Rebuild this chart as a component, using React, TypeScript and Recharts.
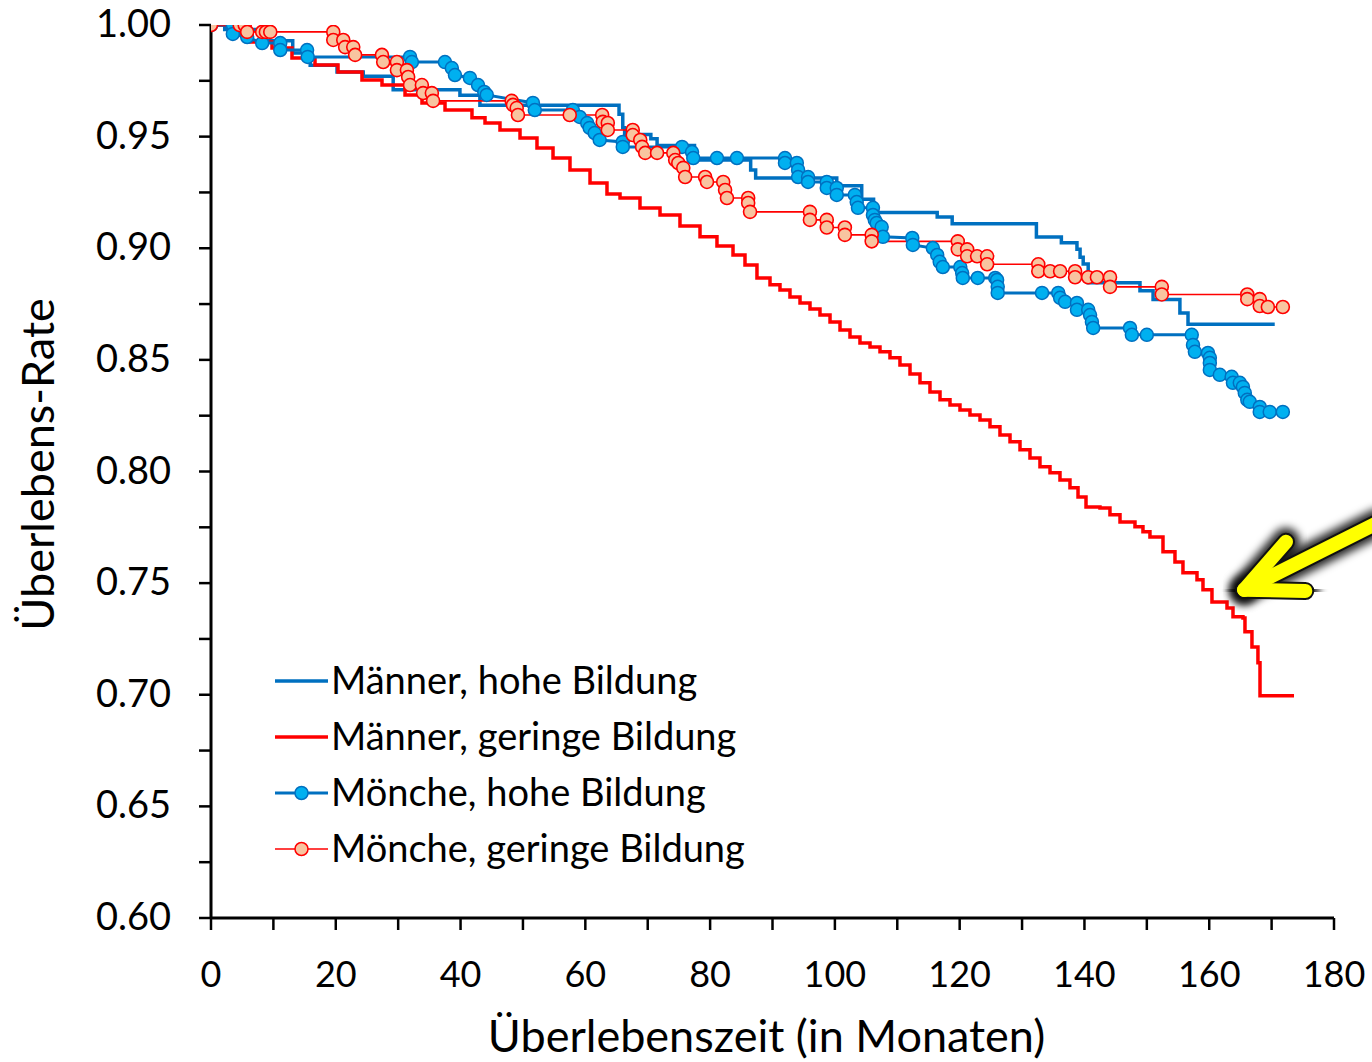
import React from 'react';
import { LineChart, Line, XAxis, YAxis, Legend, ReferenceLine, Label } from 'recharts';

const X_TICKS = [0, 10, 20, 30, 40, 50, 60, 70, 80, 90, 100, 110, 120, 130, 140, 150, 160, 170, 180];
const Y_TICKS = [0.6, 0.625, 0.65, 0.675, 0.7, 0.725, 0.75, 0.775, 0.8, 0.825, 0.85, 0.875, 0.9, 0.925, 0.95, 0.975, 1.0];

const SERIES_NAMES = [
  'Männer, hohe Bildung',
  'Männer, geringe Bildung',
  'Mönche, hohe Bildung',
  'Mönche, geringe Bildung',
];

const X_TITLE = 'Überlebenszeit (in Monaten)';
const Y_TITLE = 'Überlebens-Rate';

// [Monate, Überlebensrate]
const maennerHoch: [number, number][] = [
  [0, 1.0], [2.2, 0.998], [7.9, 0.993], [13.1, 0.9875], [15.9, 0.982], [20.2, 0.979], [24.4, 0.977],
  [29.2, 0.971], [39.9, 0.9685], [43.1, 0.964], [65.4, 0.96], [66.0, 0.954], [66.3, 0.951], [70.5, 0.949],
  [71.5, 0.946], [77.5, 0.9395], [86.5, 0.935], [87.3, 0.9315], [100.3, 0.928], [104.3, 0.922],
  [106.2, 0.916], [116.4, 0.914], [118.8, 0.911], [132.3, 0.905], [136.3, 0.9025], [138.8, 0.8995],
  [139.3, 0.896], [139.8, 0.893], [140.6, 0.8845], [148.9, 0.881], [151.0, 0.877], [155.3, 0.871],
  [156.6, 0.866], [170.5, 0.866],
];

const maennerGering: [number, number][] = [
  [0, 1.0], [3.05, 0.9964], [5.93, 0.9924], [9.78, 0.9897], [12.98, 0.9852], [16.67, 0.9821], [20.36, 0.979],
  [24.2, 0.9754], [27.41, 0.9731], [31.1, 0.9687], [33.82, 0.9651], [37.51, 0.9619], [41.83, 0.9584],
  [43.92, 0.9561], [46.32, 0.953], [49.53, 0.9494], [52.25, 0.9449], [54.82, 0.9404], [57.54, 0.9351],
  [60.75, 0.9292], [63.47, 0.9243], [65.56, 0.9225], [68.76, 0.918], [71.97, 0.9149], [75.17, 0.91],
  [78.38, 0.9051], [81.1, 0.901], [83.67, 0.897], [85.59, 0.8925], [87.51, 0.8867], [89.6, 0.8836],
  [91.2, 0.8813], [92.8, 0.8782], [94.41, 0.8755], [96.01, 0.8728], [97.61, 0.8701], [99.22, 0.867],
  [100.82, 0.8634], [102.42, 0.8603], [104.02, 0.8576], [105.63, 0.8558], [107.23, 0.8536], [108.83, 0.8509],
  [110.43, 0.8477], [112.04, 0.8437], [113.64, 0.8397], [115.24, 0.8356], [116.85, 0.8321], [118.45, 0.8298],
  [120.05, 0.8276], [121.65, 0.8253], [123.26, 0.8231], [124.86, 0.82], [126.46, 0.8164], [128.07, 0.8133],
  [129.67, 0.8097], [131.27, 0.8061], [132.87, 0.8021], [134.48, 0.7994], [136.08, 0.7962], [137.68, 0.7927],
  [138.97, 0.7886], [140.25, 0.7841], [142.49, 0.7837], [144.09, 0.7806], [145.7, 0.7774], [148.1, 0.7752],
  [149.38, 0.773], [150.5, 0.7707], [152.59, 0.764], [154.51, 0.7595], [155.79, 0.7546], [158.04, 0.7515],
  [159.0, 0.747], [160.44, 0.7416], [162.85, 0.7389], [163.81, 0.7349], [165.41, 0.7344], [165.73, 0.7282],
  [166.85, 0.7214], [167.81, 0.7143], [168.14, 0.6995], [173.59, 0.6995],
];

const moencheHoch: [number, number][] = [
  [0, 1.0], [3.5, 1.0], [3.5, 0.996], [5.8, 0.9946], [8.2, 0.9919], [11.1, 0.9919], [11.1, 0.9888],
  [15.4, 0.9888], [15.5, 0.9857], [31.9, 0.9857], [32.2, 0.9834], [37.5, 0.9834], [38.6, 0.9807],
  [39.1, 0.9776], [41.5, 0.9763], [42.8, 0.9731], [43.8, 0.97], [44.2, 0.9687], [51.6, 0.9651],
  [51.9, 0.9619], [58.0, 0.9619], [59.1, 0.9588], [60.3, 0.9561], [60.7, 0.9539], [61.5, 0.9516],
  [62.3, 0.9485], [66.0, 0.9476], [66.0, 0.9454], [75.5, 0.9454], [77.1, 0.9431], [77.3, 0.9404],
  [81.1, 0.9404], [84.3, 0.9404], [92.0, 0.9404], [92.0, 0.9382], [93.9, 0.9382], [94.1, 0.9351],
  [94.1, 0.9319], [95.7, 0.9319], [95.7, 0.9297], [98.7, 0.9297], [98.7, 0.927], [100.3, 0.927],
  [100.3, 0.9239], [103.2, 0.9239], [103.5, 0.9207], [103.7, 0.9181], [106.1, 0.9181], [106.1, 0.9149],
  [106.4, 0.9127], [106.7, 0.9113], [107.5, 0.9095], [107.7, 0.9051], [112.4, 0.9046], [112.5, 0.9015],
  [115.7, 0.9001], [116.4, 0.897], [116.8, 0.8939], [117.3, 0.8916], [120.1, 0.8916], [120.4, 0.8889],
  [120.5, 0.8867], [122.9, 0.8867], [125.7, 0.8867], [126.0, 0.8858], [126.1, 0.8827], [126.1, 0.88],
  [133.2, 0.88], [135.8, 0.88], [136.1, 0.8778], [136.9, 0.876], [138.8, 0.8755], [138.8, 0.8724],
  [140.6, 0.8724], [140.9, 0.8701], [141.2, 0.867], [141.4, 0.8643], [147.3, 0.8643], [147.6, 0.8612],
  [150.0, 0.8612], [157.2, 0.8612], [157.4, 0.8567], [157.7, 0.8536], [159.8, 0.8531], [160.1, 0.8509],
  [160.1, 0.8486], [160.1, 0.8455], [161.7, 0.8433], [163.6, 0.8424], [163.8, 0.8397], [164.9, 0.8397],
  [165.4, 0.8379], [165.7, 0.8352], [166.1, 0.8321], [166.5, 0.8312], [168.1, 0.8289], [168.1, 0.8267],
  [169.7, 0.8267], [171.8, 0.8267],
];

const moencheGering: [number, number][] = [
  [0, 1.0], [4.6, 1.0], [5.4, 1.0], [5.8, 0.9969], [8.2, 0.9969], [8.8, 0.9969], [9.5, 0.9969],
  [19.6, 0.9969], [19.6, 0.9933], [21.2, 0.9933], [21.5, 0.9901], [22.8, 0.9901], [23.1, 0.9866],
  [27.4, 0.9866], [27.6, 0.9834], [29.8, 0.9834], [29.8, 0.9798], [31.4, 0.9798], [31.6, 0.9767],
  [31.9, 0.9731], [33.8, 0.9731], [34.0, 0.9695], [35.4, 0.9695], [35.6, 0.966], [48.2, 0.966],
  [48.4, 0.9642], [49.0, 0.9628], [49.2, 0.9597], [57.5, 0.9597], [62.7, 0.9597], [62.8, 0.9566],
  [63.6, 0.9561], [63.6, 0.953], [67.6, 0.953], [67.6, 0.9507], [68.8, 0.9485], [69.1, 0.9454],
  [69.6, 0.9427], [71.5, 0.9427], [74.1, 0.9427], [74.4, 0.9395], [74.9, 0.9382], [75.7, 0.936],
  [76.0, 0.9319], [79.2, 0.9319], [79.5, 0.9297], [82.1, 0.9297], [82.4, 0.9261], [82.7, 0.9225],
  [86.1, 0.9225], [86.1, 0.9203], [86.4, 0.9163], [96.0, 0.9163], [96.0, 0.9127], [98.7, 0.9127],
  [98.7, 0.9093], [101.6, 0.9093], [101.6, 0.906], [105.9, 0.906], [105.9, 0.9031], [119.7, 0.9031],
  [119.7, 0.8995], [121.2, 0.8995], [121.2, 0.8964], [122.8, 0.8964], [124.4, 0.8964], [124.4, 0.8928],
  [132.6, 0.8928], [132.6, 0.8897], [134.5, 0.8897], [136.1, 0.8897], [138.5, 0.8897], [138.5, 0.887],
  [140.6, 0.887], [142.0, 0.887], [144.1, 0.887], [144.1, 0.8827], [152.4, 0.8827], [152.4, 0.8793],
  [166.1, 0.8793], [166.1, 0.8772], [168.1, 0.8772], [168.1, 0.8741], [169.4, 0.8737], [171.8, 0.8737],
];

// Pfeil-Annotation (Monate, Rate): Schaftende außerhalb, Spitze, Flügel
const ARROW_TAIL = { x: 187, y: 0.777 };
const ARROW_TIP = { x: 165.6, y: 0.747 };
const ARROW_WING_A = { x: 172.3, y: 0.7685 };
const ARROW_WING_B = { x: 175.4, y: 0.7465 };
const ARROW_SEGMENTS = [
  [ARROW_TAIL, ARROW_TIP],
  [ARROW_WING_A, ARROW_TIP],
  [ARROW_WING_B, ARROW_TIP],
];

const toRows = (pts: [number, number][]) => pts.map(([m, s]) => ({ m, s }));

const FONT = 'Lato, "Open Sans", sans-serif';
const BLUE = '#0070C0';
const LIGHT_BLUE = '#00B0F0';
const RED = '#FF0000';
const PEACH = '#F8C4A0';

const LEGEND_STYLE = [
  { color: BLUE, width: 3.5, dot: null as null | { fill: string; stroke: string } },
  { color: RED, width: 3.5, dot: null },
  { color: BLUE, width: 3, dot: { fill: LIGHT_BLUE, stroke: BLUE } },
  { color: RED, width: 1.6, dot: { fill: PEACH, stroke: RED } },
];

const XTick = (props: any) => {
  const { x, y, payload } = props;
  if (payload.value % 20 !== 0) return <g />;
  return (
    <text x={x} y={y + 53} textAnchor="middle" fontFamily={FONT} fontSize={36} fill="#000">
      {payload.value}
    </text>
  );
};

const YTick = (props: any) => {
  const { x, y, payload } = props;
  if (Math.round(payload.value * 1000) % 50 !== 0) return <g />;
  return (
    <text x={x + 2} y={y + 12} textAnchor="end" fontFamily={FONT} fontSize={38} fill="#000">
      {payload.value.toFixed(2)}
    </text>
  );
};

const renderLegend = () => (
  <div style={{ display: 'flex', flexDirection: 'column' }}>
    {SERIES_NAMES.map((name, i) => {
      const st = LEGEND_STYLE[i];
      return (
        <div key={name} style={{ display: 'flex', alignItems: 'center', height: 56 }}>
          <svg width={58} height={20} style={{ display: 'block' }}>
            <line x1={2} y1={10} x2={55} y2={10} stroke={st.color} strokeWidth={st.width} />
            {st.dot && <circle cx={28.5} cy={10} r={6.5} fill={st.dot.fill} stroke={st.dot.stroke} strokeWidth={1.5} />}
          </svg>
          <span style={{ fontFamily: FONT, fontSize: 38, color: '#000', lineHeight: '56px', whiteSpace: 'nowrap', marginTop: -4 }}>
            {name}
          </span>
        </div>
      );
    })}
  </div>
);

const XTitle = (props: any) => {
  const vb = props.viewBox || {};
  return (
    <text x={vb.x + vb.width / 2 - 6} y={1052} textAnchor="middle" fontFamily={FONT} fontSize={45} fill="#000">
      {X_TITLE}
    </text>
  );
};

const YTitle = (props: any) => {
  const vb = props.viewBox || {};
  const cy = vb.y + vb.height / 2 - 7;
  return (
    <text x={54} y={cy} transform={`rotate(-90, 54, ${cy})`} textAnchor="middle" fontFamily={FONT} fontSize={45} fill="#000">
      {Y_TITLE}
    </text>
  );
};

export default function App() {
  return (
    <div style={{ position: 'absolute', left: 0, top: 0, width: 1372, height: 1062, background: '#fff' }}>
      <svg width={0} height={0} style={{ position: 'absolute' }}>
        <defs>
          <filter id="arrowGlow" x="-50%" y="-50%" width="200%" height="200%">
            <feGaussianBlur stdDeviation="4" />
          </filter>
        </defs>
      </svg>
      <LineChart width={1372} height={1062} margin={{ top: 25, right: 38, bottom: 84, left: 111 }}>
        <XAxis
          type="number"
          dataKey="m"
          domain={[0, 180]}
          ticks={X_TICKS}
          interval={0}
          allowDataOverflow
          axisLine={{ stroke: '#000', strokeWidth: 3 }}
          tickLine={{ stroke: '#000', strokeWidth: 2.5 }}
          tickSize={12}
          tickMargin={4}
          height={60}
          tick={XTick}
        >
          <Label content={XTitle} />
        </XAxis>
        <YAxis
          type="number"
          domain={[0.6, 1.0]}
          ticks={Y_TICKS}
          interval={0}
          allowDataOverflow
          axisLine={{ stroke: '#000', strokeWidth: 3 }}
          tickLine={{ stroke: '#000', strokeWidth: 2.5 }}
          tickSize={12}
          tickMargin={30}
          width={100}
          tick={YTick}
        >
          <Label content={YTitle} />
        </YAxis>
        <Line
          data={toRows(maennerHoch)}
          dataKey="s"
          name={SERIES_NAMES[0]}
          type="stepAfter"
          stroke={BLUE}
          strokeWidth={3.5}
          dot={false}
          activeDot={false}
          isAnimationActive={false}
        />
        <Line
          data={toRows(maennerGering)}
          dataKey="s"
          name={SERIES_NAMES[1]}
          type="stepAfter"
          stroke={RED}
          strokeWidth={3.5}
          dot={false}
          activeDot={false}
          isAnimationActive={false}
        />
        <Line
          data={toRows(moencheHoch)}
          dataKey="s"
          name={SERIES_NAMES[2]}
          type="linear"
          stroke={BLUE}
          strokeWidth={3}
          dot={{ r: 6.5, fill: LIGHT_BLUE, stroke: BLUE, strokeWidth: 1.5 }}
          activeDot={false}
          isAnimationActive={false}
        />
        <Line
          data={toRows(moencheGering)}
          dataKey="s"
          name={SERIES_NAMES[3]}
          type="linear"
          stroke={RED}
          strokeWidth={1.6}
          dot={{ r: 6.5, fill: PEACH, stroke: RED, strokeWidth: 1.6 }}
          activeDot={false}
          isAnimationActive={false}
        />
        {ARROW_SEGMENTS.map((seg, i) => (
          <ReferenceLine key={`g${i}`} segment={seg} ifOverflow="visible" stroke="#000" strokeOpacity={0.85} strokeWidth={28} strokeLinecap="round" filter="url(#arrowGlow)" />
        ))}
        {ARROW_SEGMENTS.map((seg, i) => (
          <ReferenceLine key={`o${i}`} segment={seg} ifOverflow="visible" stroke="#111" strokeWidth={18} strokeLinecap="round" />
        ))}
        {ARROW_SEGMENTS.map((seg, i) => (
          <ReferenceLine key={`y${i}`} segment={seg} ifOverflow="visible" stroke="#FFFF00" strokeWidth={14} strokeLinecap="round" />
        ))}
        <Legend
          layout="vertical"
          align="center"
          verticalAlign="middle"
          content={renderLegend}
          wrapperStyle={{ position: 'absolute', left: 273, top: 653, width: 'auto', height: 'auto' }}
        />
      </LineChart>
    </div>
  );
}
